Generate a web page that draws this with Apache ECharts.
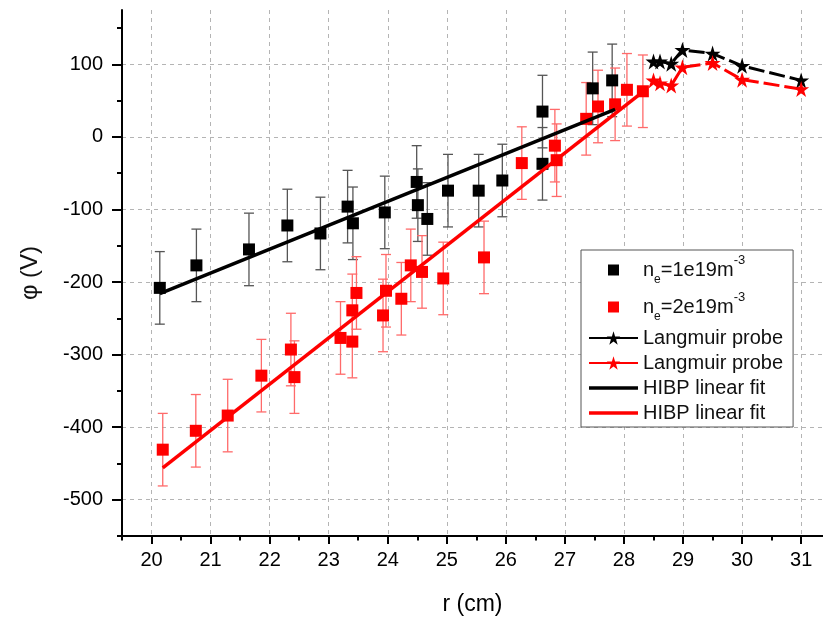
<!DOCTYPE html>
<html>
<head>
<meta charset="utf-8">
<script src="https://cdn.jsdelivr.net/npm/echarts@6/dist/echarts.min.js"></script>
<style>
html,body{margin:0;padding:0;background:#fff;}
#chart{width:823px;height:621px;}
</style>
</head>
<body>
<div id="chart"></div>
<script>
// ---- data ----
var blackR = [20.14, 20.76, 21.65, 22.30, 22.86, 23.32, 23.41, 23.95, 24.49, 24.51, 24.67, 25.02, 25.54, 25.94, 26.62, 26.62, 27.47, 27.80];
var blackV = [-208, -177, -155, -122, -133, -96, -119, -104, -62, -94, -113, -74, -74, -60, 35, -37, 67, 78];
var blackErr = [50, 50, 50, 50, 50, 50, 50, 50, 50, 50, 50, 50, 50, 50, 50, 50, 50, 50];

var redR = [20.19, 20.75, 21.29, 21.86, 22.36, 22.42, 23.20, 23.40, 23.40, 23.47, 23.92, 23.97, 24.23, 24.39, 24.58, 24.94, 25.63, 26.27, 26.83, 26.86, 27.36, 27.56, 27.85, 28.05, 28.32];
var redV = [-431, -405, -384, -329, -293, -331, -277, -282, -239, -215, -246, -212, -223, -177, -186, -195, -166, -36, -12, -32, 25, 42, 45, 65, 63];
var redErr = [50, 50, 50, 50, 50, 50, 50, 50, 50, 50, 50, 50, 50, 50, 50, 50, 50, 50, 50, 50, 50, 50, 50, 50, 50];

var probeR = [28.50, 28.61, 28.80, 28.99, 29.50, 30.00, 31.00];
var probe1V = [104, 104, 101, 120, 115, 98, 78];
var probe2V = [78, 74, 71, 96, 102, 79, 66];

var fit1R = [20.14, 27.85];
var fit1V = [-216, 38];
var fit2R = [20.19, 28.33];
var fit2V = [-456, 63];

var xTicks = [20, 21, 22, 23, 24, 25, 26, 27, 28, 29, 30, 31];
var xMinorTicks = [19.5, 20.5, 21.5, 22.5, 23.5, 24.5, 25.5, 26.5, 27.5, 28.5, 29.5, 30.5];
var yTicks = [-500, -400, -300, -200, -100, 0, 100];
var yMinorTicks = [-550, -450, -350, -250, -150, -50, 50, 150];

var legendText = {
  ne1: '{m|n}{sub|e}{m|=1e19m}{sup|-3}',
  ne2: '{m|n}{sub|e}{m|=2e19m}{sup|-3}',
  lp1: '{t|Langmuir probe}',
  lp2: '{t|Langmuir probe}',
  fit1: '{t|HIBP linear fit}',
  fit2: '{t|HIBP linear fit}'
};

// ---- helpers ----
function zip2(a, b) { return a.map(function (v, i) { return [v, b[i]]; }); }
function zip3(a, b, c) { return a.map(function (v, i) { return [v, b[i], c[i]]; }); }

var FONT = "'Liberation Sans', Arial, sans-serif";
var STAR = 'path://M50,0 L61.23,34.55 L97.55,34.55 L68.17,55.9 L79.39,90.45 L50,69.1 L20.61,90.45 L31.83,55.9 L2.45,34.55 L38.77,34.55 Z';
var SQUARE_ICON = 'path://M0,0M3,3H14V14H3ZM17,17';
var LINE_ICON = 'path://M0,0H49V3.5H0Z';

function errRender(color) {
  return function (params, api) {
    var x = api.value(0), y = api.value(1), e = api.value(2);
    var p1 = api.coord([x, y + e]);
    var p2 = api.coord([x, y - e]);
    var w = 5;
    var st = { stroke: color, lineWidth: 1.3 };
    return {
      type: 'group',
      children: [
        { type: 'line', shape: { x1: p1[0], y1: p1[1], x2: p2[0], y2: p2[1] }, style: st },
        { type: 'line', shape: { x1: p1[0] - w, y1: p1[1], x2: p1[0] + w, y2: p1[1] }, style: st },
        { type: 'line', shape: { x1: p2[0] - w, y1: p2[1], x2: p2[0] + w, y2: p2[1] }, style: st }
      ]
    };
  };
}

var option = {
  animation: false,
  backgroundColor: '#fff',
  grid: { left: 122, right: 0, top: 10, bottom: 85, containLabel: false },
  xAxis: [
    {
      type: 'value', min: 19.5, max: 31.37, position: 'bottom',
      name: 'r (cm)', nameLocation: 'middle', nameGap: 57,
      nameTextStyle: { fontSize: 23, color: '#000', fontFamily: FONT },
      axisLine: { show: true, onZero: false, lineStyle: { color: '#000', width: 2 } },
      axisTick: { show: true, customValues: xTicks, length: 8, lineStyle: { color: '#000', width: 2 } },
      axisLabel: { customValues: xTicks, margin: 14, fontSize: 20, color: '#000', fontFamily: FONT },
      splitLine: { show: true, lineStyle: { color: '#b4b4b4', width: 1, type: [4, 4] } }
    },
    {
      type: 'value', min: 19.5, max: 31.37, position: 'bottom',
      axisLine: { show: false, onZero: false },
      axisTick: { show: true, customValues: xMinorTicks, length: 4.5, lineStyle: { color: '#000', width: 2 } },
      axisLabel: { show: false },
      splitLine: { show: false }
    }
  ],
  yAxis: [
    {
      type: 'value', min: -550, max: 175, position: 'left',
      name: 'φ (V)', nameLocation: 'middle', nameGap: 80,
      nameTextStyle: { fontSize: 24, color: '#111', fontFamily: FONT },
      axisLine: { show: true, onZero: false, lineStyle: { color: '#000', width: 2 } },
      axisTick: { show: true, customValues: yTicks, length: 10, lineStyle: { color: '#000', width: 2 } },
      axisLabel: { customValues: yTicks, margin: 19, fontSize: 20, color: '#000', fontFamily: FONT },
      splitLine: { show: true, lineStyle: { color: '#b4b4b4', width: 1, type: [4, 4] } }
    },
    {
      type: 'value', min: -550, max: 175, position: 'left',
      axisLine: { show: false, onZero: false },
      axisTick: { show: true, customValues: yMinorTicks, length: 5, lineStyle: { color: '#000', width: 2 } },
      axisLabel: { show: false },
      splitLine: { show: false }
    }
  ],
  legend: {
    orient: 'vertical', left: 581, top: 250,
    padding: [4, 10, 4, 7], itemGap: 5, itemWidth: 49, itemHeight: 17,
    backgroundColor: '#fff', borderColor: '#555', borderWidth: 1,
    selectedMode: false,
    data: [
      { name: 'ne1', icon: SQUARE_ICON },
      { name: 'ne2', icon: SQUARE_ICON },
      { name: 'lp1', lineStyle: { type: 'solid' } },
      { name: 'lp2', lineStyle: { type: 'solid' } },
      { name: 'fit1', icon: LINE_ICON },
      { name: 'fit2', icon: LINE_ICON }
    ],
    formatter: function (name) { return legendText[name]; },
    textStyle: {
      fontSize: 20, color: '#111', fontFamily: FONT,
      rich: {
        t: { fontSize: 20, lineHeight: 20, color: '#111', fontFamily: FONT },
        m: { fontSize: 20, lineHeight: 32, color: '#111', fontFamily: FONT },
        sub: { fontSize: 12, lineHeight: 10, verticalAlign: 'bottom', color: '#111', fontFamily: FONT },
        sup: { fontSize: 13, lineHeight: 14, verticalAlign: 'top', color: '#111', fontFamily: FONT }
      }
    }
  },
  series: [
    {
      name: 'errBlack', type: 'custom', z: 2,
      renderItem: errRender('#555'),
      encode: { x: 0, y: 1 },
      data: zip3(blackR, blackV, blackErr)
    },
    {
      name: 'errRed', type: 'custom', z: 2,
      renderItem: errRender('#ff6a6a'),
      encode: { x: 0, y: 1 },
      data: zip3(redR, redV, redErr)
    },
    {
      name: 'ne1', type: 'scatter', z: 3, symbol: 'rect', symbolSize: 12,
      itemStyle: { color: '#000', opacity: 1 },
      data: zip2(blackR, blackV)
    },
    {
      name: 'ne2', type: 'scatter', z: 3, symbol: 'rect', symbolSize: 12,
      itemStyle: { color: '#ff0000', opacity: 1 },
      data: zip2(redR, redV)
    },
    {
      name: 'lp1', type: 'line', z: 4, symbol: STAR, symbolSize: 16,
      itemStyle: { color: '#000' },
      lineStyle: { color: '#000', width: 3, type: [16, 5] },
      data: zip2(probeR, probe1V)
    },
    {
      name: 'lp2', type: 'line', z: 4, symbol: STAR, symbolSize: 16,
      itemStyle: { color: '#ff0000' },
      lineStyle: { color: '#ff0000', width: 3, type: [16, 5] },
      data: zip2(probeR, probe2V)
    },
    {
      name: 'fit1', type: 'line', z: 4, symbol: 'none', showSymbol: false,
      itemStyle: { color: '#000' },
      lineStyle: { color: '#000', width: 3.5 },
      data: zip2(fit1R, fit1V)
    },
    {
      name: 'fit2', type: 'line', z: 4, symbol: 'none', showSymbol: false,
      itemStyle: { color: '#ff0000' },
      lineStyle: { color: '#ff0000', width: 3.5 },
      data: zip2(fit2R, fit2V)
    }
  ]
};

var chart = echarts.init(document.getElementById('chart'), null, { renderer: 'canvas' });
chart.setOption(option);
</script>
</body>
</html>
